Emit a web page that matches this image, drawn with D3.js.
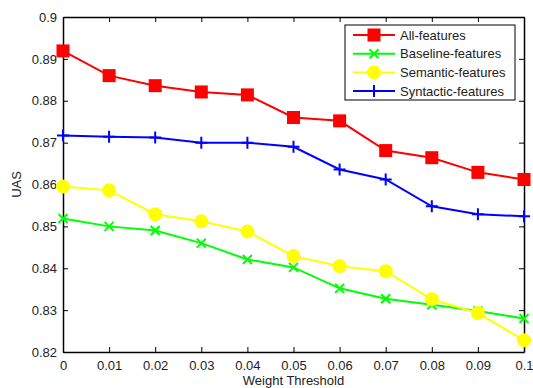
<!DOCTYPE html>
<html>
<head>
<meta charset="utf-8">
<script src="https://cdn.jsdelivr.net/npm/d3@7"></script>
<style>
  body { margin: 0; background: #fff; }
  svg text { font-family: "Liberation Sans", Arial, sans-serif; }
</style>
</head>
<body>
<div id="chart"></div>
<script>
// data
const thresholds = [0, 0.01, 0.02, 0.03, 0.04, 0.05, 0.06, 0.07, 0.08, 0.09, 0.1];
const allFeatures = [0.8919, 0.8860, 0.8836, 0.8821, 0.8814, 0.8760, 0.8752, 0.8681, 0.8664, 0.8629, 0.8612];
const baselineFeatures = [0.8519, 0.8500, 0.8490, 0.8460, 0.8421, 0.8402, 0.8352, 0.8327, 0.8313, 0.8298, 0.8280];
const semanticFeatures = [0.8595, 0.8586, 0.8529, 0.8512, 0.8488, 0.8429, 0.8405, 0.8393, 0.8326, 0.8293, 0.8228];
const syntacticFeatures = [0.8717, 0.8714, 0.8712, 0.8700, 0.8700, 0.8690, 0.8636, 0.8612, 0.8548, 0.8529, 0.8524];
const xTicks = [0, 0.01, 0.02, 0.03, 0.04, 0.05, 0.06, 0.07, 0.08, 0.09, 0.1];
const yTicks = [0.82, 0.83, 0.84, 0.85, 0.86, 0.87, 0.88, 0.89, 0.9];
const xTickLabels = ["0", "0.01", "0.02", "0.03", "0.04", "0.05", "0.06", "0.07", "0.08", "0.09", "0.1"];
const yTickLabels = ["0.82", "0.83", "0.84", "0.85", "0.86", "0.87", "0.88", "0.89", "0.9"];

const series = [
  {name: "All-features", values: allFeatures, color: "#ff0000", marker: "square"},
  {name: "Baseline-features", values: baselineFeatures, color: "#00ff00", marker: "x"},
  {name: "Semantic-features", values: semanticFeatures, color: "#ffff00", marker: "circle"},
  {name: "Syntactic-features", values: syntacticFeatures, color: "#0000ff", marker: "plus"}
];

const W = 533, H = 388;
const plotLeft = 63, plotRight = 524, plotTop = 17, plotBottom = 352;

const svg = d3.select("#chart").append("svg")
  .attr("width", W).attr("height", H);

const x = d3.scaleLinear().domain([0, 0.1]).range([plotLeft, plotRight]);
const y = d3.scaleLinear().domain([0.82, 0.9]).range([plotBottom, plotTop]);

// axes (MATLAB style, inward ticks on all sides)
const tickLen = 5;
svg.append("g")
  .attr("transform", "translate(0," + plotBottom + ")")
  .call(d3.axisBottom(x).tickValues(xTicks).tickSizeInner(-tickLen).tickSizeOuter(0)
    .tickPadding(9).tickFormat((d, i) => xTickLabels[i]));
svg.append("g")
  .attr("transform", "translate(0," + plotTop + ")")
  .call(d3.axisTop(x).tickValues(xTicks).tickSizeInner(-tickLen).tickSizeOuter(0).tickFormat(""));
svg.append("g")
  .attr("transform", "translate(" + plotLeft + ",0)")
  .call(d3.axisLeft(y).tickValues(yTicks).tickSizeInner(-tickLen).tickSizeOuter(0)
    .tickPadding(6).tickFormat((d, i) => yTickLabels[i]));
svg.append("g")
  .attr("transform", "translate(" + plotRight + ",0)")
  .call(d3.axisRight(y).tickValues(yTicks).tickSizeInner(-tickLen).tickSizeOuter(0).tickFormat(""));

svg.selectAll(".domain").attr("stroke", "#000").attr("stroke-width", 1.5);
svg.selectAll(".tick line").attr("stroke", "#000");
svg.selectAll(".tick text").attr("font-size", 13).attr("fill", "#222");

// axis labels
svg.append("text")
  .attr("x", (plotLeft + plotRight) / 2).attr("y", 385)
  .attr("text-anchor", "middle").attr("font-size", 13).attr("fill", "#222")
  .text("Weight Threshold");
svg.append("text")
  .attr("transform", "translate(21," + ((plotTop + plotBottom) / 2) + ") rotate(-90)")
  .attr("text-anchor", "middle").attr("font-size", 13).attr("fill", "#222")
  .text("UAS");

function drawMarker(g, type, color, cx, cy) {
  if (type === "square") {
    g.append("rect").attr("x", cx - 6.5).attr("y", cy - 6.5)
      .attr("width", 13).attr("height", 13).attr("fill", color);
  } else if (type === "circle") {
    g.append("circle").attr("cx", cx).attr("cy", cy).attr("r", 7).attr("fill", color);
  } else if (type === "x") {
    g.append("path")
      .attr("d", `M${cx - 4.5},${cy - 4.5}L${cx + 4.5},${cy + 4.5}M${cx - 4.5},${cy + 4.5}L${cx + 4.5},${cy - 4.5}`)
      .attr("stroke", color).attr("stroke-width", 2);
  } else if (type === "plus") {
    g.append("path")
      .attr("d", `M${cx - 6},${cy}L${cx + 6},${cy}M${cx},${cy - 6}L${cx},${cy + 6}`)
      .attr("stroke", color).attr("stroke-width", 2);
  }
}

const line = d3.line().x((d, i) => x(thresholds[i])).y(d => y(d));

series.forEach(s => {
  const g = svg.append("g");
  g.append("path")
    .datum(s.values)
    .attr("d", line)
    .attr("fill", "none")
    .attr("stroke", s.color)
    .attr("stroke-width", 2);
  s.values.forEach((v, i) => drawMarker(g, s.marker, s.color, x(thresholds[i]), y(v)));
});

// legend
const lg = svg.append("g");
lg.append("rect")
  .attr("x", 345).attr("y", 25).attr("width", 170).attr("height", 75)
  .attr("fill", "#fff").attr("stroke", "#000").attr("stroke-width", 1);
series.forEach((s, i) => {
  const ly = 35 + i * 18.7;
  lg.append("line")
    .attr("x1", 353).attr("x2", 395).attr("y1", ly).attr("y2", ly)
    .attr("stroke", s.color).attr("stroke-width", 2);
  drawMarker(lg, s.marker, s.color, 374, ly);
  lg.append("text")
    .attr("x", 400).attr("y", ly + 4.5)
    .attr("font-size", 13).attr("fill", "#222")
    .text(s.name);
});
</script>
</body>
</html>
